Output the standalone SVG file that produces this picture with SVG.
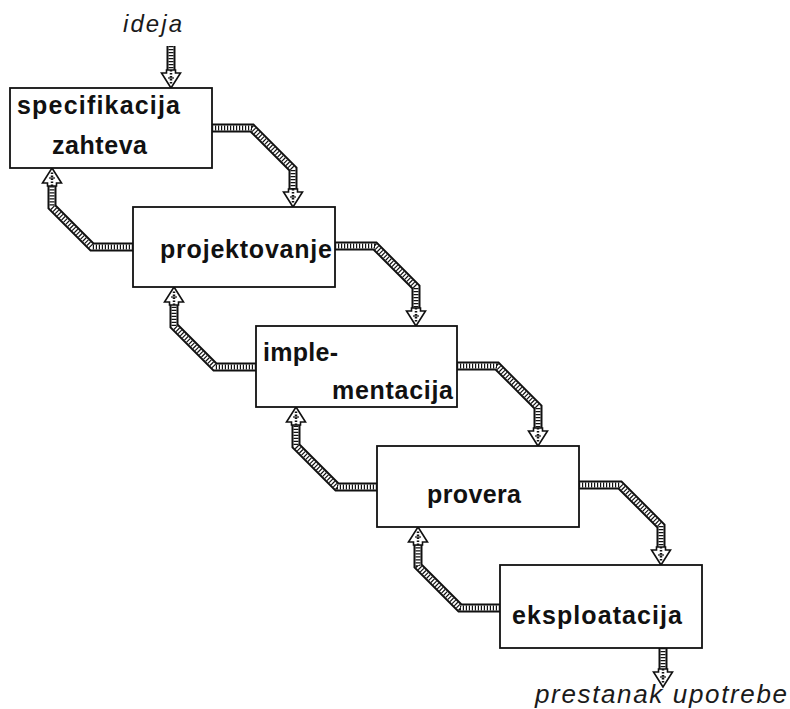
<svg xmlns="http://www.w3.org/2000/svg" xmlns:xlink="http://www.w3.org/1999/xlink" width="790" height="709" viewBox="0 0 790 709">
<style>
.box{fill:#fff;stroke:#111;stroke-width:1.8}
.lbl{font-family:"Liberation Sans",Arial,sans-serif;font-weight:bold;font-size:25px;fill:#111}
.io{font-family:"Liberation Sans",Arial,sans-serif;font-style:italic;fill:#1a1a1a}
.s1{fill:none;stroke:#111;stroke-width:9;stroke-linejoin:miter}
.s2{fill:none;stroke:#fff;stroke-width:5}
.s3{fill:none;stroke:#111;stroke-width:5;stroke-dasharray:1.2 1.8}
.hd{fill:#fff;stroke:#111;stroke-width:1.6;stroke-linejoin:miter}
.hl{fill:none;stroke:#111;stroke-width:2.5;stroke-dasharray:1.5 1.5}
.pl{stroke:#111;stroke-width:1.2}
</style>
<defs>
<g id="head">
<polygon class="hd" points="0,0 -9.5,-15 -4.5,-15 -4.5,-18 4.5,-18 4.5,-15 9.5,-15"/>
<path class="hl" d="M0,-18 V-4"/>
<path class="pl" d="M-3,-10 H3"/>
</g>
<path id="c0" d="M171,46 V71"/>
<path id="c1" d="M212,128 H252 L293,169 V190"/>
<path id="f1" d="M133,247 H92 L52,207 V185"/>
<path id="c2" d="M335,246 H375 L416,287 V309"/>
<path id="f2" d="M256,367 H215 L174,326 V304"/>
<path id="c3" d="M457,366 H497 L538,407 V429"/>
<path id="f3" d="M377,487 H337 L296,446 V424"/>
<path id="c4" d="M579,485 H620 L661,526 V548"/>
<path id="f4" d="M500,608 H460 L418,566 V544"/>
<path id="c5" d="M663,648 V670"/>
</defs>
<rect width="790" height="709" fill="#fff"/>
<g id="connectors">
<g id="shafts">
<use xlink:href="#c0" class="s1"/><use xlink:href="#c0" class="s2"/><use xlink:href="#c0" class="s3"/>
<use xlink:href="#c1" class="s1"/><use xlink:href="#c1" class="s2"/><use xlink:href="#c1" class="s3"/>
<use xlink:href="#f1" class="s1"/><use xlink:href="#f1" class="s2"/><use xlink:href="#f1" class="s3"/>
<use xlink:href="#c2" class="s1"/><use xlink:href="#c2" class="s2"/><use xlink:href="#c2" class="s3"/>
<use xlink:href="#f2" class="s1"/><use xlink:href="#f2" class="s2"/><use xlink:href="#f2" class="s3"/>
<use xlink:href="#c3" class="s1"/><use xlink:href="#c3" class="s2"/><use xlink:href="#c3" class="s3"/>
<use xlink:href="#f3" class="s1"/><use xlink:href="#f3" class="s2"/><use xlink:href="#f3" class="s3"/>
<use xlink:href="#c4" class="s1"/><use xlink:href="#c4" class="s2"/><use xlink:href="#c4" class="s3"/>
<use xlink:href="#f4" class="s1"/><use xlink:href="#f4" class="s2"/><use xlink:href="#f4" class="s3"/>
<use xlink:href="#c5" class="s1"/><use xlink:href="#c5" class="s2"/><use xlink:href="#c5" class="s3"/>
</g>
<g id="heads">
<use xlink:href="#head" transform="translate(171,88)"/>
<use xlink:href="#head" transform="translate(293,207)"/>
<use xlink:href="#head" transform="translate(52,168) rotate(180)"/>
<use xlink:href="#head" transform="translate(416,326)"/>
<use xlink:href="#head" transform="translate(174,287) rotate(180)"/>
<use xlink:href="#head" transform="translate(538,446)"/>
<use xlink:href="#head" transform="translate(296,407) rotate(180)"/>
<use xlink:href="#head" transform="translate(661,565)"/>
<use xlink:href="#head" transform="translate(418,527) rotate(180)"/>
<use xlink:href="#head" transform="translate(663,687)"/>
</g>
</g>
<g id="n1">
<rect class="box" x="10" y="88" width="202" height="80"/>
<text class="lbl" x="17" y="114" textLength="163" lengthAdjust="spacing">specifikacija</text>
<text class="lbl" x="52" y="154" textLength="95" lengthAdjust="spacing">zahteva</text>
</g>
<g id="n2">
<rect class="box" x="133" y="207" width="202" height="80"/>
<text class="lbl" x="160" y="258" textLength="172" lengthAdjust="spacing">projektovanje</text>
</g>
<g id="n3">
<rect class="box" x="256" y="326" width="201" height="81"/>
<text class="lbl" x="263" y="361" textLength="75" lengthAdjust="spacing">imple-</text>
<text class="lbl" x="332" y="399" textLength="121" lengthAdjust="spacing">mentacija</text>
</g>
<g id="n4">
<rect class="box" x="377" y="446" width="202" height="81"/>
<text class="lbl" x="427" y="503" textLength="94" lengthAdjust="spacing">provera</text>
</g>
<g id="n5">
<rect class="box" x="500" y="565" width="202" height="83"/>
<text class="lbl" x="512" y="624" textLength="170" lengthAdjust="spacing">eksploatacija</text>
</g>
<g id="labels">
<text class="io" x="123" y="32" font-size="24" textLength="59" lengthAdjust="spacing">ideja</text>
<text class="io" x="535" y="703" font-size="26" textLength="252" lengthAdjust="spacing">prestanak upotrebe</text>
</g>
</svg>
